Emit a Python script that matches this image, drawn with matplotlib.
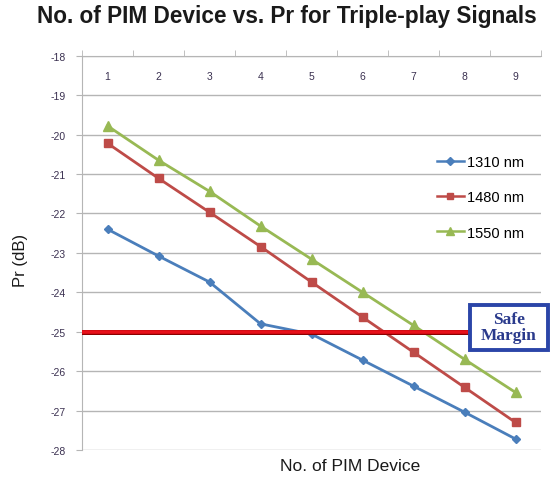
import matplotlib
matplotlib.use("Agg")
import matplotlib.pyplot as plt
from matplotlib.patches import Rectangle

devices = [1, 2, 3, 4, 5, 6, 7, 8, 9]
pr_1310 = [-22.40, -23.08, -23.74, -24.80, -25.06, -25.72, -26.38, -27.04, -27.72]
pr_1480 = [-20.22, -21.11, -21.97, -22.84, -23.74, -24.63, -25.52, -26.41, -27.30]
pr_1550 = [-19.78, -20.65, -21.44, -22.32, -23.16, -24.00, -24.84, -25.70, -26.54]
safe_margin = -25
yticks = [-18, -19, -20, -21, -22, -23, -24, -25, -26, -27, -28]

plt.rcParams['font.family'] = ['Liberation Sans', 'DejaVu Sans']

fig = plt.figure(figsize=(5.53, 4.81), dpi=100)
ax = fig.add_axes([82/553, 1-451/481, (541-82)/553, (451-56.7)/481])

ax.set_xlim(0.5, 9.5)
ax.set_ylim(-28, -18)

for y in yticks:
    ax.axhline(y, color='#b5b5b5', lw=1, zorder=0)

ax.plot(devices, pr_1310, color='#4a7ebb', lw=2, marker='D', ms=4.5, label='1310 nm', zorder=3)
ax.plot(devices, pr_1480, color='#be4b48', lw=2, marker='s', ms=6, label='1480 nm', zorder=3)
ax.plot(devices, pr_1550, color='#98b954', lw=2, marker='^', ms=6.5, label='1550 nm', zorder=3)

ax.axhline(safe_margin, color='#8b0000', lw=3.6, zorder=4)
ax.axhline(safe_margin, color='#e8101a', lw=2.6, zorder=4)

for s in ['right', 'bottom']:
    ax.spines[s].set_visible(False)
ax.spines['left'].set_color('#b5b5b5')
ax.spines['top'].set_color('#b5b5b5')

ax.set_yticks(yticks)
ax.set_yticklabels([str(v) for v in yticks])
ax.xaxis.tick_top()
ax.set_xticks(devices)
ax.set_xticklabels([str(d) for d in devices])
ax.set_xticks([x + 0.5 for x in range(0, 10)], minor=True)
ax.tick_params(axis='x', which='major', length=0, pad=-18, labelsize=7.5, labelcolor='#3a3050')
ax.tick_params(axis='x', which='minor', length=4, color='#b5b5b5', direction='out', top=True)
ax.tick_params(axis='y', length=4, color='#b5b5b5', labelsize=7.5, labelcolor='#3a3050', pad=8)

leg = ax.legend(loc='upper left', bbox_to_anchor=(430/553, 1-149/481), bbox_transform=fig.transFigure,
                frameon=False, fontsize=10.5, handlelength=1.8, handletextpad=0.25, labelspacing=1.45,
                borderpad=0, markerscale=0.8)
for h in leg.get_lines():
    h.set_linewidth(1.8)

fig.text(0.518, 1-17/481, 'No. of PIM Device vs. Pr for Triple-play Signals', ha='center', va='center',
         fontsize=16.3, fontweight='bold', color='#1a1a1a')
fig.text(20/553, 1-260/481, 'Pr (dB)', rotation=90, ha='center', va='center', fontsize=12, color='#1a1a1a')
fig.text(350/553, 1-467/481, 'No. of PIM Device', ha='center', va='center', fontsize=12.5, color='#1a1a1a')

box = Rectangle((470/553, 1-351/481), 78/553, 45/481, transform=fig.transFigure,
                facecolor='white', edgecolor='#2b45a8', lw=2.8, zorder=10)
fig.add_artist(box)
fig.text(509/553, 1-328/481, 'Safe\nMargin', ha='center', va='center', fontsize=12.5, fontweight='bold',
         family=['Liberation Serif', 'DejaVu Serif'], color='#2a3a8c', linespacing=0.95, zorder=11)

fig.savefig('out.png', dpi=100)
